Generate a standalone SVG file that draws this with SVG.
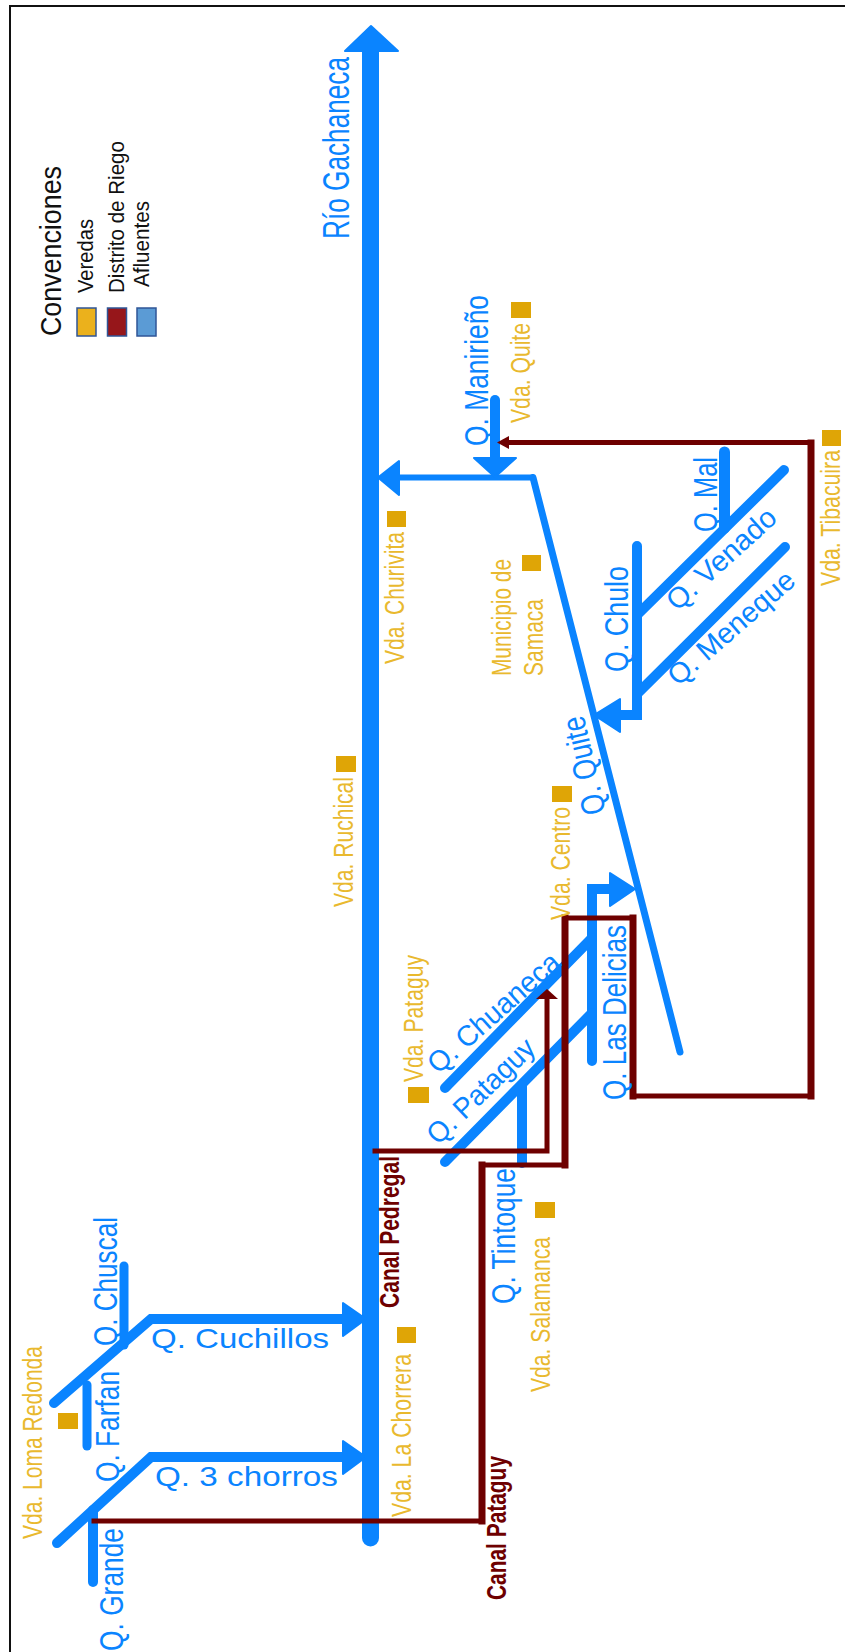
<svg xmlns="http://www.w3.org/2000/svg" width="845" height="1652" viewBox="0 0 845 1652">
<style>
text{font-family:"Liberation Sans",Arial,sans-serif}
.b{fill:#0a84ff}
.g{fill:#e9b92e}
.r{fill:#6e0000;font-weight:bold}
.k{fill:#111}
.s{fill:#dfa506}
.l{fill:none;stroke:#0a84ff;stroke-linecap:round;stroke-linejoin:miter}
.c{fill:none;stroke:#6e0000;stroke-linecap:square}
.h{fill:#0a84ff;stroke:#0a84ff;stroke-width:2;stroke-linejoin:round}
.ch{fill:#6e0000}
.sw{stroke:#2f5597;stroke-width:1.5}
</style>
<rect width="845" height="1652" fill="#fff"/>
<path d="M10 1652V6H845" fill="none" stroke="#111" stroke-width="2"/>
<g id="connectors">
<path class="l" stroke-width="17" d="M370.500 50V1538"/>
<polygon class="h" points="371,26 345,51 398,51"/>
<path class="l" stroke-width="6" d="M395 477.500H533"/>
<path class="l" stroke-width="7" d="M533 477.500L680 1052"/>
<polygon class="h" points="378,477.500 399,461 399,495"/>
<path class="l" stroke-width="10" d="M495 400V460"/>
<polygon class="h" points="495,477 474,458 516,458"/>
<path class="l" stroke-width="10" d="M784 470L638 614"/>
<path class="l" stroke-width="10" d="M785 547L638 693"/>
<path class="l" stroke-width="11" d="M724.500 452V528"/>
<path class="l" stroke-width="10" stroke-linejoin="miter" d="M637 546V715H620"/>
<polygon class="h" points="594,715 620,699 620,732"/>
<path class="l" stroke-width="10" d="M592 1061V889H610"/>
<polygon class="h" points="635,889 610,873 610,906"/>
<path class="l" stroke-width="10" d="M445 1088L592 938"/>
<path class="l" stroke-width="10" d="M445 1162L592 1013"/>
<path class="l" stroke-width="10" stroke-linecap="butt" d="M522 1085V1163"/>
<path class="l" stroke-width="10" d="M54 1403L151 1319H345"/>
<polygon class="h" points="366,1319 343,1303 343,1336"/>
<path class="l" stroke-width="10" d="M57 1543L151 1457H345"/>
<polygon class="h" points="366,1457 343,1441 343,1474"/>
<path class="l" stroke-width="9" d="M124 1266V1345"/>
<path class="l" stroke-width="9" d="M87 1385V1446"/>
<path class="l" stroke-width="10" d="M93 1510V1582"/>
<path class="c" stroke-width="5" d="M509 442.500H811M633 1096H811M565 918H633M482 1165H565M94 1521H482"/>
<path class="c" stroke-width="7" d="M811 443V1096M633 918V1096M565 918V1165M482 1165V1521"/>
<polygon class="ch" points="497,442.500 509,436 509,449"/>
<path class="c" stroke-width="5" d="M375 1151H547V999"/>
<polygon class="ch" points="547,989 536,999 558,999"/>
</g>
<g id="legend">
<text class="k" transform="translate(61 336) rotate(-90)" font-size="30" textLength="170" lengthAdjust="spacingAndGlyphs">Convenciones</text>
<rect class="sw" x="77" y="308" width="19" height="28" fill="#ebb11c"/>
<rect class="sw" x="107.500" y="308" width="19" height="28" fill="#96161a"/>
<rect class="sw" x="137" y="308" width="19" height="28" fill="#5b9bd5"/>
<text class="k" transform="translate(93 293) rotate(-90)" font-size="22" textLength="74" lengthAdjust="spacingAndGlyphs">Veredas</text>
<text class="k" transform="translate(124 293) rotate(-90)" font-size="22" textLength="152" lengthAdjust="spacingAndGlyphs">Distrito de Riego</text>
<text class="k" transform="translate(149 287) rotate(-90)" font-size="22" textLength="86" lengthAdjust="spacingAndGlyphs">Afluentes</text>
</g>
<g id="rio-gachaneca"><text class="b" transform="translate(349 239) rotate(-90)" font-size="36" textLength="182" lengthAdjust="spacingAndGlyphs">Río Gachaneca</text></g>
<g id="q-manirieno"><text class="b" transform="translate(488 446) rotate(-90)" font-size="34" textLength="151" lengthAdjust="spacingAndGlyphs">Q. Manirieño</text></g>
<g id="q-mal"><text class="b" transform="translate(717 532) rotate(-90)" font-size="34" textLength="75" lengthAdjust="spacingAndGlyphs">Q. Mal</text></g>
<g id="q-venado"><text class="b" transform="translate(677 612) rotate(-42)" font-size="29" textLength="137" lengthAdjust="spacingAndGlyphs">Q. Venado</text></g>
<g id="q-meneque"><text class="b" transform="translate(678 687) rotate(-41)" font-size="29" textLength="158" lengthAdjust="spacingAndGlyphs">Q. Meneque</text></g>
<g id="q-chulo"><text class="b" transform="translate(628 672) rotate(-90)" font-size="34" textLength="106" lengthAdjust="spacingAndGlyphs">Q. Chulo</text></g>
<g id="q-quite"><text class="b" transform="translate(606 812) rotate(-103)" font-size="33" textLength="100" lengthAdjust="spacingAndGlyphs">Q. Quite</text></g>
<g id="q-las-delicias"><text class="b" transform="translate(626 1100) rotate(-90)" font-size="34" textLength="175" lengthAdjust="spacingAndGlyphs">Q. Las Delicias</text></g>
<g id="q-chuaneca"><text class="b" transform="translate(438 1075) rotate(-41.500)" font-size="29" textLength="166" lengthAdjust="spacingAndGlyphs">Q. Chuaneca</text></g>
<g id="q-pataguy"><text class="b" transform="translate(438 1146) rotate(-44)" font-size="29" textLength="138" lengthAdjust="spacingAndGlyphs">Q. Pataguy</text></g>
<g id="q-tintoque"><text class="b" transform="translate(515 1304) rotate(-90)" font-size="34" textLength="136" lengthAdjust="spacingAndGlyphs">Q. Tintoque</text></g>
<g id="q-chuscal"><text class="b" transform="translate(117 1346) rotate(-90)" font-size="34" textLength="129" lengthAdjust="spacingAndGlyphs">Q. Chuscal</text></g>
<g id="q-farfan"><text class="b" transform="translate(119 1482) rotate(-90)" font-size="34" textLength="111" lengthAdjust="spacingAndGlyphs">Q. Farfan</text></g>
<g id="q-grande"><text class="b" transform="translate(123 1651) rotate(-90)" font-size="34" textLength="123" lengthAdjust="spacingAndGlyphs">Q. Grande</text></g>
<g id="q-cuchillos"><text class="b" x="151" y="1348" font-size="28" textLength="178" lengthAdjust="spacingAndGlyphs">Q. Cuchillos</text></g>
<g id="q-3-chorros"><text class="b" x="155" y="1486" font-size="28" textLength="183" lengthAdjust="spacingAndGlyphs">Q. 3 chorros</text></g>
<g id="canal-pedregal"><text class="r" transform="translate(399 1308) rotate(-90)" font-size="27" textLength="152" lengthAdjust="spacingAndGlyphs">Canal Pedregal</text></g>
<g id="canal-pataguy"><text class="r" transform="translate(506 1600) rotate(-90)" font-size="27" textLength="144" lengthAdjust="spacingAndGlyphs">Canal Pataguy</text></g>
<g id="vda-quite"><rect class="s" x="511" y="302" width="20" height="16"/><text class="g" transform="translate(530 423) rotate(-90)" font-size="27" textLength="100" lengthAdjust="spacingAndGlyphs">Vda. Quite</text></g>
<g id="vda-tibacuira"><rect class="s" x="822" y="430" width="19" height="16"/><text class="g" transform="translate(840 586) rotate(-90)" font-size="27" textLength="136" lengthAdjust="spacingAndGlyphs">Vda. Tibacuira</text></g>
<g id="vda-churivita"><rect class="s" x="387" y="511" width="19" height="16"/><text class="g" transform="translate(404 664) rotate(-90)" font-size="27" textLength="132" lengthAdjust="spacingAndGlyphs">Vda. Churivita</text></g>
<g id="municipio-samaca"><rect class="s" x="522" y="555" width="19" height="16"/><text class="g" transform="translate(511 676) rotate(-90)" font-size="27" textLength="117" lengthAdjust="spacingAndGlyphs">Municipio de</text><text class="g" transform="translate(543 676) rotate(-90)" font-size="27" textLength="77" lengthAdjust="spacingAndGlyphs">Samaca</text></g>
<g id="vda-ruchical"><rect class="s" x="336" y="756" width="20" height="16"/><text class="g" transform="translate(353 907) rotate(-90)" font-size="27" textLength="130" lengthAdjust="spacingAndGlyphs">Vda. Ruchical</text></g>
<g id="vda-centro"><rect class="s" x="552" y="786" width="20" height="16"/><text class="g" transform="translate(570 920) rotate(-90)" font-size="27" textLength="113" lengthAdjust="spacingAndGlyphs">Vda. Centro</text></g>
<g id="vda-pataguy"><rect class="s" x="408" y="1087" width="21" height="16"/><text class="g" transform="translate(423 1082) rotate(-90)" font-size="27" textLength="127" lengthAdjust="spacingAndGlyphs">Vda. Pataguy</text></g>
<g id="vda-salamanca"><rect class="s" x="535" y="1202" width="20" height="16"/><text class="g" transform="translate(550 1392) rotate(-90)" font-size="27" textLength="155" lengthAdjust="spacingAndGlyphs">Vda. Salamanca</text></g>
<g id="vda-la-chorrera"><rect class="s" x="397" y="1327" width="19" height="16"/><text class="g" transform="translate(411 1517) rotate(-90)" font-size="27" textLength="163" lengthAdjust="spacingAndGlyphs">Vda. La Chorrera</text></g>
<g id="vda-loma-redonda"><rect class="s" x="58" y="1413" width="20" height="16"/><text class="g" transform="translate(42 1539) rotate(-90)" font-size="27" textLength="193" lengthAdjust="spacingAndGlyphs">Vda. Loma Redonda</text></g>
</svg>
